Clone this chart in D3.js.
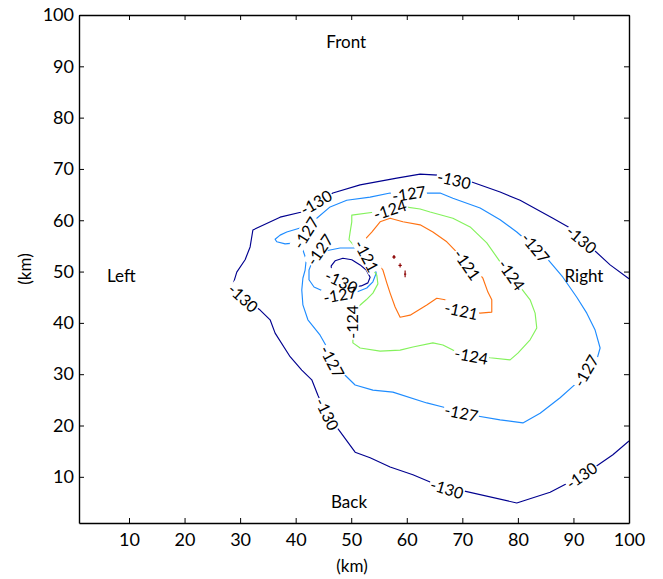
<!DOCTYPE html>
<html>
<head>
<meta charset="utf-8">
<script src="https://cdn.jsdelivr.net/npm/d3@7"></script>
<style>
  body { margin: 0; background: #fff; }
  svg text { font-family: Lato, "Open Sans", sans-serif; fill: #000; }
</style>
</head>
<body>
<svg id="chart" width="663" height="579"></svg>
<script>
// ---- data (km) -------------------------------------------------------------
const xTicks = [10, 20, 30, 40, 50, 60, 70, 80, 90, 100];
const yTicks = [10, 20, 30, 40, 50, 60, 70, 80, 90, 100];
const levels = [-130, -127, -124, -121, -118];

// -130 dB contour: outer open curve, right edge -> back -> left -> front -> right edge
const c130Outer = [
  [100,17.0],[97.1,14.3],[93.9,11.9],[91.7,10.4],[89.0,8.8],[85.8,7.0],[79.8,4.9],
  [69.6,7.4],[67.2,7.8],[64.2,9.0],[61.1,10.4],[57.0,11.9],[53.4,13.7],[50.7,14.8],
  [47.4,19.7],[45.6,22.2],[44.0,25.9],[42.9,28.9],[41.1,30.8],[39.0,33.4],[36.3,38.0],
  [35.4,40.6],[33.6,42.5],[30.5,45.0],[28.7,47.4],[29.4,49.9],[30.9,52.3],[31.8,54.8],
  [32.3,58.1],[37.2,60.6],[41.1,61.6],[43.8,63.4],[46.7,65.3],[51.6,66.9],[58.2,68.2],
  [62.4,69.0],[65.6,68.8],[68.5,67.8],[70.8,67.8],[76.8,65.5],[80.4,63.9],[86.3,60.4],
  [89.4,58.5],[91.4,56.2],[93.3,54.6],[96.6,51.3],[100,48.6]
];
// -130 dB contour: small closed pocket
const c130Inner = [
  [46.4,49.7],[46.4,51.1],[47.1,52.1],[48.5,52.6],[50.1,52.3],[51.6,51.3],[52.7,50.3],
  [53.4,48.9],[53.0,47.8],[51.8,47.2],[50.1,47.0],[48.2,47.8],[46.7,48.7]
];
// -127 dB contour: main loop with the lobe on the left
const c127Outer = [
  [40.1,55.6],[38.1,55.4],[36.6,55.8],[36.3,56.3],[37.2,57.1],[38.4,57.7],[40.8,58.5],
  [43.8,60.4],[46.2,62.6],[49.2,63.9],[53.4,64.5],[57.0,65.3],[60.6,65.3],[63.6,65.3],
  [66.0,65.3],[68.3,64.3],[73.2,62.4],[76.8,60.1],[79.8,57.7],[83.1,54.6],[85.2,52.6],
  [88.1,48.9],[90.6,45.0],[92.4,41.9],[93.9,38.6],[94.8,35.1],[94.2,32.8],[92.4,30.4],
  [90.6,28.3],[87.6,25.4],[84.0,22.4],[80.9,20.5],[76.8,21.1],[71.9,22.0],[69.6,22.6],
  [66.5,23.6],[63.6,24.4],[57.5,26.5],[53.9,26.9],[50.7,27.9],[48.9,29.8],[46.7,32.4],
  [45.6,35.3],[44.4,37.6],[42.2,40.6],[41.3,43.5],[41.1,46.4],[41.3,48.7],[41.7,50.3],
  [41.9,52.3],[41.3,54.2]
];
// -127 dB contour: ring round the -130 pocket
const c127Inner = [
  [43.7,52.6],[45.3,54.0],[48.0,54.6],[51.0,54.6],[52.8,53.0],[53.9,51.7],[54.5,49.7],
  [53.9,48.0],[52.8,46.8],[51.0,46.0],[48.0,45.6],[45.3,46.0],[43.3,47.0],[42.4,48.4],
  [42.4,50.3],[42.9,51.7]
];
// -124 dB contour
const c124 = [
  [50.1,61.0],[54.3,61.6],[57.0,62.2],[59.7,62.6],[62.4,62.2],[64.2,61.6],[68.3,60.4],
  [71.4,58.7],[74.4,55.6],[76.8,51.9],[78.6,49.3],[80.4,47.0],[82.2,44.5],[83.1,41.9],
  [83.4,39.0],[82.2,36.7],[80.0,34.1],[78.6,32.8],[75.0,33.2],[71.4,33.9],[68.3,34.7],
  [66.5,35.7],[64.7,36.1],[61.1,35.3],[58.8,34.7],[55.2,34.5],[51.6,35.1],[50.3,36.1],
  [50.3,40.6],[50.7,41.9],[51.2,43.1],[52.7,44.5],[53.9,45.8],[54.8,47.6],[54.6,49.3],
  [53.4,51.3],[51.6,53.6],[49.6,56.2],[49.8,57.7],[50.1,59.7]
];
// -121 dB contour
const c121 = [
  [51.9,55.6],[53.7,57.7],[55.2,59.7],[57.0,60.4],[59.3,59.7],[62.4,59.1],[64.7,57.7],
  [67.2,55.8],[69.0,53.8],[70.8,51.7],[72.8,49.9],[73.7,48.7],[74.6,46.0],[75.3,44.5],
  [75.3,42.1],[73.2,41.9],[69.6,42.9],[66.9,44.5],[65.4,44.8],[63.6,43.5],[60.6,41.5],
  [58.8,41.1],[57.9,43.1],[57.0,45.8],[56.4,47.8],[55.7,50.3],[54.6,51.9],[53.0,53.8]
];
// -118 dB contour: three tiny cells near the peak
const c118a = [[57.5,52.8],[57.7,53.1],[57.9,52.8],[57.7,52.6]];
const c118b = [[58.5,51.2],[59.1,51.2]];
const c118c = [[58.8,50.8],[58.8,51.6]];
const c118d = [[59.7,50.2],[59.7,48.9]];
const c118e = [[59.5,49.5],[59.9,49.5]];

// contour paths with their level and whether they close on themselves
const contourPaths = [
  { level: -130, closed: false, pts: c130Outer },
  { level: -130, closed: true,  pts: c130Inner },
  { level: -127, closed: true,  pts: c127Outer },
  { level: -127, closed: true,  pts: c127Inner },
  { level: -124, closed: true,  pts: c124 },
  { level: -121, closed: true,  pts: c121 },
  { level: -118, closed: true,  pts: c118a },
  { level: -118, closed: false, pts: c118b },
  { level: -118, closed: false, pts: c118c },
  { level: -118, closed: false, pts: c118d },
  { level: -118, closed: false, pts: c118e }
];

// inline contour labels: [x, y, level]
const labelSpots = [
  [68.5,67.8,-130],[43.7,63.4,-130],[30.5,44.8,-130],[45.6,22.2,-130],
  [67.2,7.6,-130],[91.5,10.2,-130],[91.4,56.2,-130],[48.2,48.0,-130],
  [60.4,65.1,-127],[83.1,54.6,-127],[92.3,30.6,-127],[69.8,22.4,-127],
  [46.5,32.4,-127],[41.9,57.5,-127],[44.4,54.2,-127],[48.0,45.4,-127],
  [57.0,62.0,-124],[78.8,49.3,-124],[71.6,33.5,-124],[50.3,40.2,-124],
  [52.7,53.0,-121],[70.8,51.3,-121],[69.8,42.3,-121]
];
// text rotation of each inline label (degrees), same order as labelSpots
const labelAngles = [
  13, -30, 42, 64, 17, -35, 40, 25,
  -8, 50, -60, 12, 62, -58, -55, -10,
  -18, 55, 11, -90,
  62, 55, 12
];

// side annotations: [text, x, y]
const sideNotes = [
  ["Front", 49.1, 94.7],
  ["Back", 49.6, 5.1],
  ["Left", 8.6, 49.1],
  ["Right", 91.9, 49.1]
];

// ---- layout ----------------------------------------------------------------
const margin = { left: 79, right: 34, top: 15, bottom: 56 };
const W = 663, H = 579;
const svg = d3.select("#chart");

const x = d3.scaleLinear().domain([1, 100]).range([margin.left, W - margin.right]);
const y = d3.scaleLinear().domain([1, 100]).range([H - margin.bottom, margin.top]);

const color = d3.scaleOrdinal()
  .domain(levels)
  .range(["#00008f", "#1e8cff", "#84f25c", "#ff7212", "#8b0000"]);

// ---- contour lines ---------------------------------------------------------
const lineOpen = d3.line().x(d => x(d[0])).y(d => y(d[1]));
const lineClosed = d3.line().x(d => x(d[0])).y(d => y(d[1])).curve(d3.curveLinearClosed);

const plot = svg.append("g");
plot.append("defs").append("clipPath").attr("id", "plotClip")
  .append("rect")
  .attr("x", x(1)).attr("y", y(100))
  .attr("width", x(100) - x(1)).attr("height", y(1) - y(100));

const lines = plot.append("g").attr("clip-path", "url(#plotClip)");
lines.selectAll("path")
  .data(contourPaths)
  .join("path")
  .attr("d", d => (d.closed ? lineClosed : lineOpen)(d.pts))
  .attr("fill", "none")
  .attr("stroke", d => color(d.level))
  .attr("stroke-width", 1.15)
  .attr("stroke-linejoin", "round");

// ---- inline labels: white backings first, then all texts on top ----------
const place = (d, i) => `translate(${x(d[0])},${y(d[1])}) rotate(${labelAngles[i]})`;

const backG = plot.append("g");
const textG = plot.append("g");

const texts = textG.selectAll("text")
  .data(labelSpots)
  .join("text")
  .attr("transform", place)
  .attr("text-anchor", "middle")
  .attr("dy", "0.35em")
  .style("font-size", "16px")
  .text(d => String(d[2]));

const boxes = [];
texts.each(function () { boxes.push(this.getBBox()); });

backG.selectAll("rect")
  .data(labelSpots)
  .join("rect")
  .attr("transform", place)
  .attr("x", (d, i) => boxes[i].x - 1)
  .attr("y", (d, i) => boxes[i].y + 2)
  .attr("width", (d, i) => boxes[i].width + 2)
  .attr("height", (d, i) => boxes[i].height - 4)
  .attr("fill", "#fff");

// ---- side annotations ------------------------------------------------------
plot.append("g").selectAll("text")
  .data(sideNotes)
  .join("text")
  .attr("x", d => x(d[1]))
  .attr("y", d => y(d[2]))
  .attr("text-anchor", "middle")
  .attr("dy", "0.35em")
  .style("font-size", "17px")
  .text(d => d[0]);

// ---- axes (inward ticks on all four sides) ---------------------------------
const fmt = d3.format("d");
const axisStyle = g => {
  g.select(".domain").attr("stroke", "#000").attr("stroke-width", 1.4);
  g.selectAll(".tick line").attr("stroke", "#000").attr("stroke-width", 1);
  g.selectAll(".tick text").style("font-size", "18px").attr("fill", "#000")
    .style("font-family", "Lato, 'Open Sans', sans-serif");
};

svg.append("g")
  .attr("transform", `translate(0,${y(1)})`)
  .call(d3.axisBottom(x).tickValues(xTicks).tickFormat(fmt).tickSizeInner(-5).tickSizeOuter(0).tickPadding(10))
  .call(axisStyle);

svg.append("g")
  .attr("transform", `translate(0,${y(100)})`)
  .call(d3.axisTop(x).tickValues(xTicks).tickFormat("").tickSizeInner(-5).tickSizeOuter(0))
  .call(axisStyle);

svg.append("g")
  .attr("transform", `translate(${x(1)},0)`)
  .call(d3.axisLeft(y).tickValues(yTicks).tickFormat(fmt).tickSizeInner(-5).tickSizeOuter(0).tickPadding(5))
  .call(axisStyle);

svg.append("g")
  .attr("transform", `translate(${x(100)},0)`)
  .call(d3.axisRight(y).tickValues(yTicks).tickFormat("").tickSizeInner(-5).tickSizeOuter(0))
  .call(axisStyle);

// axis titles
svg.append("text")
  .attr("x", (x(1) + x(100)) / 2 - 2)
  .attr("y", 566)
  .attr("text-anchor", "middle")
  .attr("dy", "0.35em")
  .style("font-size", "17px")
  .text("(km)");

svg.append("text")
  .attr("transform", `translate(25,${(y(1) + y(100)) / 2}) rotate(-90)`)
  .attr("text-anchor", "middle")
  .attr("dy", "0.35em")
  .style("font-size", "17px")
  .text("(km)");
</script>
</body>
</html>
